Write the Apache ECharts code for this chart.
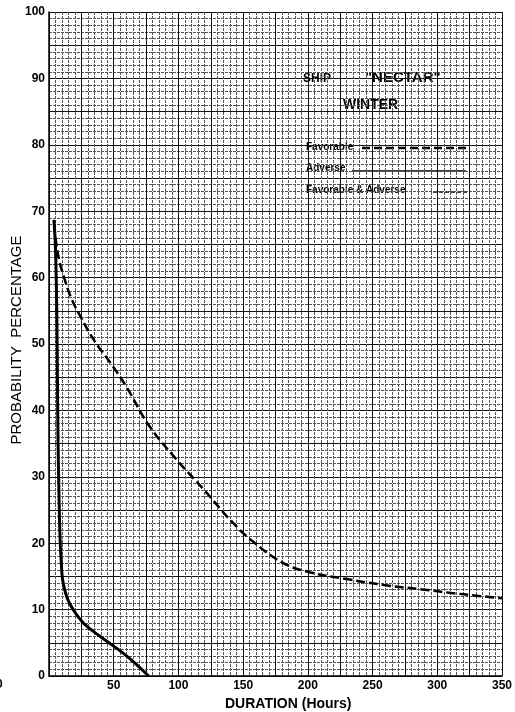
<!DOCTYPE html>
<html>
<head>
<meta charset="utf-8">
<script src="https://cdn.jsdelivr.net/npm/echarts@6/dist/echarts.min.js"></script>
<style>
html,body{margin:0;padding:0;background:#fff;}
#chart{width:515px;height:712px;}
</style>
</head>
<body>
<div id="chart"></div>
<script>
// Favorable & Adverse (dashed curve)
var favAdvHours = [4, 5, 8, 11.5, 17, 24.4, 35, 47.7, 60, 77, 99, 120, 140, 156, 181, 202, 230, 259, 290, 311, 330, 350];
var favAdvProb  = [68, 66, 62.5, 60.1, 57, 54.1, 50.5, 47.1, 43.5, 37.8, 32.5, 28, 23.5, 20.5, 17, 15.6, 14.6, 13.7, 13, 12.5, 12.1, 11.7];
// Adverse (solid curve)
var advHours = [3.8, 5, 6, 6.5, 7, 7.6, 8.5, 9.5, 10.5, 12.8, 15, 19, 23, 27, 35, 50, 62, 77];
var advProb  = [68.7, 64.5, 55, 45, 35, 28.5, 21, 17, 14.5, 12.5, 11.3, 9.9, 8.8, 7.9, 6.6, 4.5, 2.7, 0];
// Axis ticks
var xLabelTicks = [50, 100, 150, 200, 250, 300, 350];
var yLabelTicks = [0, 10, 20, 30, 40, 50, 60, 70, 80, 90, 100];

function pairs(xs, ys){ return xs.map(function(x,i){ return [x, ys[i]]; }); }

var FONT = 'Liberation Sans';
var chart = echarts.init(document.getElementById('chart'));
chart.setOption({
  animation: false,
  backgroundColor: '#fff',
  grid: {left: 49, right: 13, top: 12, bottom: 36, containLabel: false, outerBoundsMode: 'none'},
  xAxis: {
    type: 'value', min: 0, max: 350, interval: 25,
    axisLine: {show: true, onZero: false, lineStyle: {color: '#000', width: 1.5}},
    axisTick: {show: false},
    axisLabel: {
      margin: 4, color: '#000', fontFamily: FONT, fontWeight: 'bold', fontSize: 12,
      formatter: function(v){ return xLabelTicks.indexOf(v) >= 0 ? String(v) : ''; }
    },
    splitLine: {show: true, lineStyle: {color: '#111', width: 1}},
    minorTick: {show: false, splitNumber: 5},
    minorSplitLine: {show: true, lineStyle: {color: '#555', width: 1, type: [3, 1]}}
  },
  yAxis: {
    type: 'value', min: 0, max: 100, interval: 5,
    axisLine: {show: true, lineStyle: {color: '#000', width: 1.5}},
    axisTick: {show: false},
    axisLabel: {
      margin: 4, color: '#000', fontFamily: FONT, fontWeight: 'bold', fontSize: 12,
      formatter: function(v){ return yLabelTicks.indexOf(v) >= 0 ? String(v) : ''; }
    },
    splitLine: {show: true, lineStyle: {color: '#111', width: 1}},
    minorTick: {show: false, splitNumber: 5},
    minorSplitLine: {show: true, lineStyle: {color: '#555', width: 1, type: [3, 1]}}
  },
  series: [
    {
      name: 'Favorable & Adverse', type: 'line', smooth: 0.4, symbol: 'none',
      data: pairs(favAdvHours, favAdvProb),
      lineStyle: {color: '#000', width: 2.5, type: [9, 4]}, z: 5
    },
    {
      name: 'Adverse', type: 'line', smooth: 0.4, symbol: 'none',
      data: pairs(advHours, advProb),
      lineStyle: {color: '#000', width: 3}, z: 6
    }
  ],
  graphic: [
    {type: 'text', x: 17, y: 340, rotation: Math.PI / 2,
     style: {text: 'PROBABILITY  PERCENTAGE', font: '15px ' + FONT, fill: '#000', align: 'center', verticalAlign: 'middle'}},
    {type: 'text', left: 303, top: 73, style: {text: 'SHIP', font: 'bold 12px ' + FONT, fill: '#000'}},
    {type: 'text', left: 365, top: 70, style: {text: '"NECTAR"', font: 'bold 15px ' + FONT, fill: '#000'}},
    {type: 'text', left: 343, top: 98, style: {text: 'WINTER', font: 'bold 14px ' + FONT, fill: '#000'}},
    {type: 'text', left: 306, top: 142, style: {text: 'Favorable', font: 'bold 10px ' + FONT, fill: '#000'}},
    {type: 'line', shape: {x1: 362, y1: 148, x2: 467, y2: 148}, style: {stroke: '#000', lineWidth: 2.5, lineDash: [8, 4]}},
    {type: 'text', left: 306, top: 163, style: {text: 'Adverse', font: 'bold 10px ' + FONT, fill: '#000'}},
    {type: 'line', shape: {x1: 352, y1: 171, x2: 466, y2: 171}, style: {stroke: '#000', lineWidth: 1.5}},
    {type: 'text', left: 306, top: 185, style: {text: 'Favorable & Adverse', font: 'bold 10px ' + FONT, fill: '#000'}},
    {type: 'line', shape: {x1: 433, y1: 192, x2: 467, y2: 192}, style: {stroke: '#000', lineWidth: 1.5, lineDash: [4, 2]}},
    {type: 'text', left: -4, top: 679, style: {text: '0', font: 'bold 12px ' + FONT, fill: '#000'}},
    {type: 'text', left: 225, top: 697, style: {text: 'DURATION (Hours)', font: 'bold 14px ' + FONT, fill: '#000'}}
  ]
});
</script>
</body>
</html>
